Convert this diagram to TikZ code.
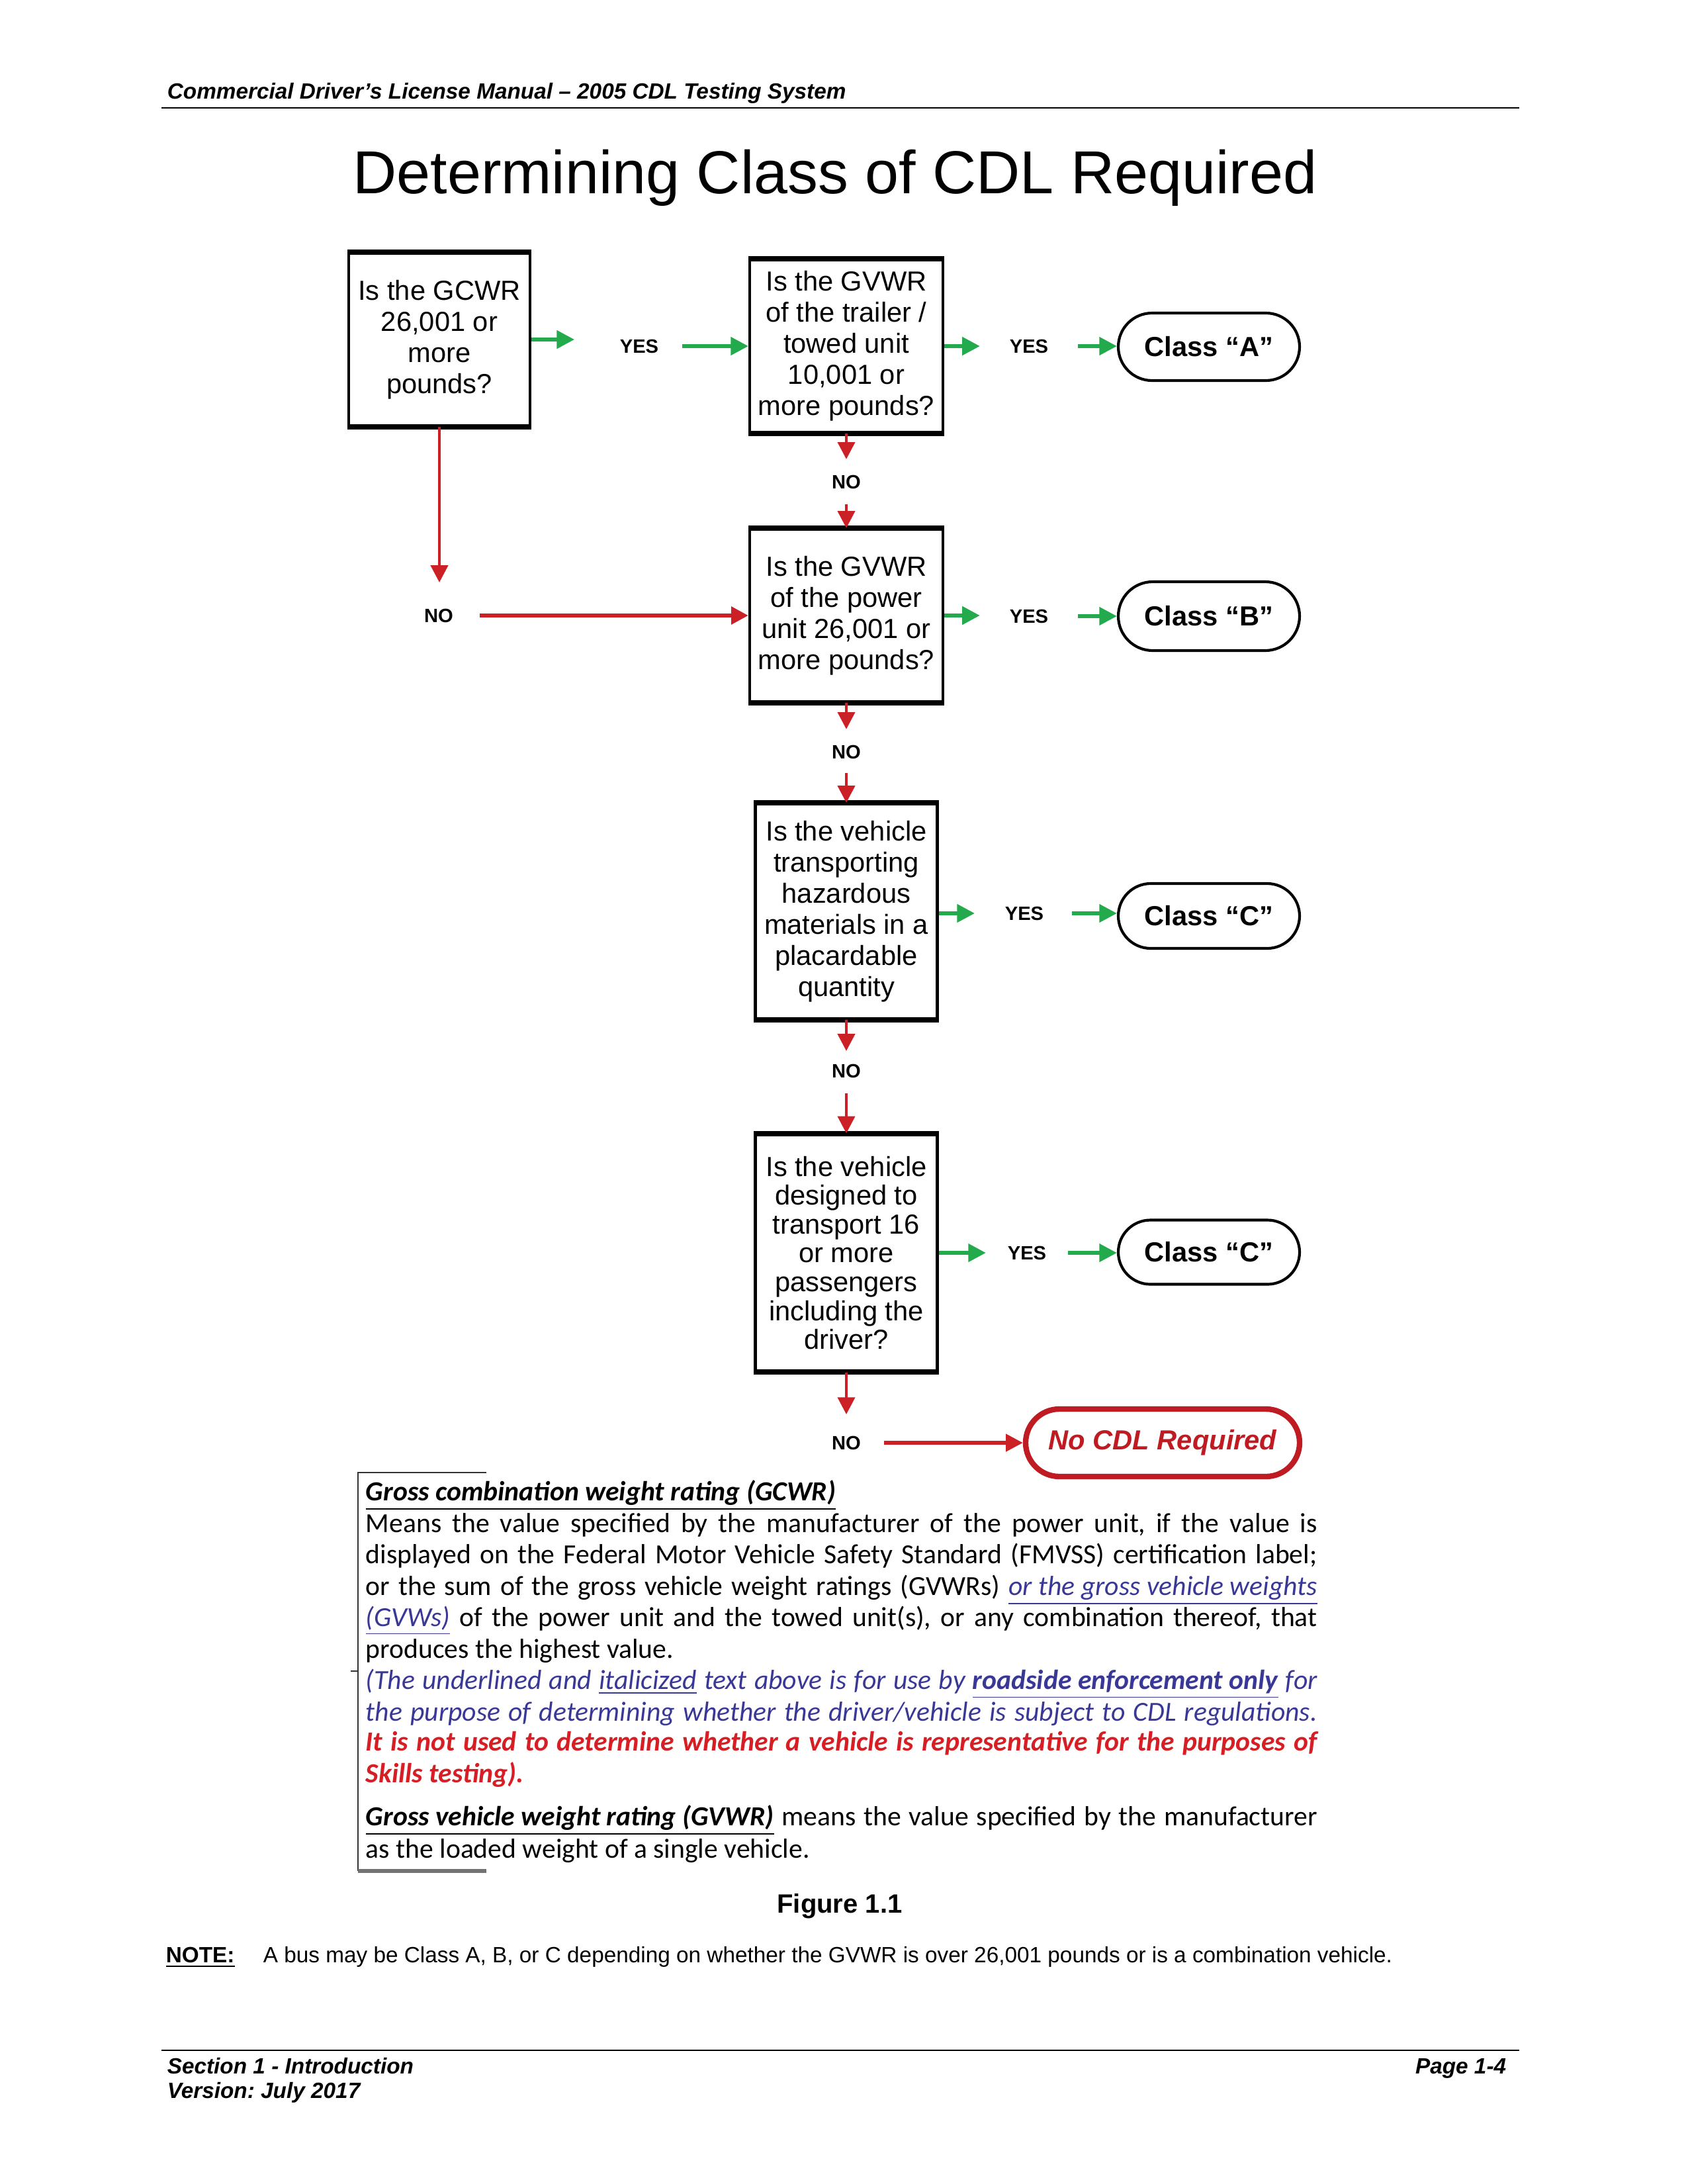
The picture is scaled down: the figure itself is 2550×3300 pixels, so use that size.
\documentclass[tikz,border=0pt]{standalone}
\usepackage{fontspec}
\usepackage{graphicx}
\setmainfont{Liberation Sans}
\newfontfamily\calib{Carlito}
\usetikzlibrary{arrows.meta,shapes.misc}
\definecolor{grn}{RGB}{34,170,76}
\definecolor{rd}{RGB}{204,32,39}
\definecolor{dkred}{RGB}{190,28,34}
\definecolor{bpurp}{RGB}{58,56,150}
\definecolor{txtred}{RGB}{214,30,36}
\frenchspacing
\newsavebox\jlbox
\newcommand\jl[1]{\sbox\jlbox{#1}\ifdim\wd\jlbox>345.1pt\resizebox{345.1pt}{\height}{\usebox\jlbox}\else\makebox[345.1pt][s]{#1}\fi}
\tikzset{
  qbox/.style={draw, line width=1pt, inner sep=0pt, align=center, font=\fontsize{10}{11.28}\selectfont},
  oval/.style={draw, rounded rectangle, line width=1pt, inner sep=0pt, minimum width={274*0.24pt}, font=\fontsize{10}{12}\selectfont\bfseries},
  lbl/.style={inner sep=0pt, font=\fontsize{7}{8}\selectfont\bfseries},
  garrow/.style={draw=grn, line width=1.4pt, -{Triangle[length=6.4pt,width=6.4pt]}},
  rarrow/.style={draw=rd, line width=1.1pt, -{Triangle[length=6.2pt,width=6.2pt]}},
  bodyline/.style={anchor=base west, inner sep=0pt, font=\calib\fontsize{10}{12}\selectfont},
  hdrtext/.style={anchor=base west, inner sep=0pt, font=\fontsize{8}{10}\selectfont\bfseries\itshape},
}
\begin{document}
\begin{tikzpicture}[x=0.24pt, y=-0.24pt]
\useasboundingbox (0,0) rectangle (2550,3300);
\fill[white] (0,0) rectangle (2550,3300);

% header
\node[hdrtext] (hdr) at (252,149) {Commercial Driver’s License Manual – 2005 CDL Testing System};
\draw[line width=0.7pt] (244,163) -- (2296,163);
\node[anchor=base, inner sep=0pt, font=\fontsize{22}{26}\selectfont] (title) at (1262,292) {Determining Class of CDL Required};

% question boxes
\node[qbox, minimum width={274*0.24pt}, minimum height={260*0.24pt}] (b1) at (664,513) {Is the GCWR\\26,001 or\\more\\pounds?};
\node[qbox, minimum width={292*0.24pt}, minimum height={260*0.24pt}] (b2) at (1279,523) {Is the GVWR\\of the trailer /\\towed unit\\10,001 or\\more pounds?};
\node[qbox, minimum width={292*0.24pt}, minimum height={260*0.24pt}] (b3) at (1279,930) {Is the GVWR\\of the power\\unit 26,001 or\\more pounds?};
\node[qbox, minimum width={275*0.24pt}, minimum height={324*0.24pt}] (b4) at (1279,1377) {Is the vehicle\\transporting\\hazardous\\materials in a\\placardable\\quantity};
\node[qbox, minimum width={275*0.24pt}, minimum height={357*0.24pt}, font=\fontsize{10}{10.46}\selectfont] (b5) at (1279,1893) {Is the vehicle\\designed to\\transport 16\\or more\\passengers\\including the\\driver?};
\foreach \b in {b1,b2,b3,b4,b5}{
  \draw[line width=1.7pt] (\b.north west) -- (\b.north east);
  \draw[line width=1.7pt] (\b.south west) -- (\b.south east);
}

% result ovals
\node[oval, minimum height={102*0.24pt}] (cA) at (1827,524) {Class “A”};
\node[oval, minimum height={104*0.24pt}] (cB) at (1827,931) {Class “B”};
\node[oval, minimum height={98*0.24pt}] (cC1) at (1827,1384) {Class “C”};
\node[oval, minimum height={97*0.24pt}] (cC2) at (1827,1892) {Class “C”};
\node[oval, draw=dkred, line width=2pt, text=dkred, minimum width={414*0.24pt}, minimum height={102*0.24pt}, font=\fontsize{10}{12}\selectfont\bfseries\itshape] (nocdl) at (1757,2180) {No CDL Required};

% labels
\node[lbl] (y1) at (966,523) {YES};
\node[lbl] (y2) at (1555,523) {YES};
\node[lbl] (y3) at (1555,931) {YES};
\node[lbl] (y4) at (1548,1380) {YES};
\node[lbl] (y5) at (1552,1893) {YES};
\node[lbl] (n1) at (663,930) {NO};
\node[lbl] (n2) at (1279,728) {NO};
\node[lbl] (n3) at (1279,1136) {NO};
\node[lbl] (n4) at (1279,1618) {NO};
\node[lbl] (n5) at (1279,2180) {NO};

% green connectors
\draw[garrow, shorten >=23.5pt] (b1.east) -- (b1.east -| y1.center);
\draw[garrow, shorten <=15.6pt] (y1.center) -- (b2.west);
\draw[garrow, shorten >=17.8pt] (b2.east) -- (y2.center);
\draw[garrow, shorten <=17.8pt] (y2.center) -- (y2.center -| cA.west);
\draw[garrow, shorten >=17.8pt] (b3.east) -- (b3.east -| y3.center);
\draw[garrow, shorten <=17.8pt] (y3.center) -- (y3.center -| cB.west);
\draw[garrow, shorten >=18pt] (y4.center -| b4.east) -- (y4.center);
\draw[garrow, shorten <=17.3pt] (y4.center) -- (y4.center -| cC1.west);
\draw[garrow, shorten >=14.9pt] (b5.east) -- (b5.east -| y5.center);
\draw[garrow, shorten <=14.9pt] (y5.center) -- (y5.center -| cC2.west);

% red connectors
\draw[rarrow, shorten >=12pt] (b1.south) -- (b1.south |- n1.center);
\draw[rarrow, line width=1.5pt, shorten <=14.9pt] (n1.center) -- (n1.center -| b3.west);
\draw[rarrow, shorten >=8.2pt] (b2.south) -- (n2.center);
\draw[rarrow, shorten <=8.2pt] (n2.center) -- (b3.north);
\draw[rarrow, shorten >=8.2pt] (b3.south) -- (n3.center);
\draw[rarrow, shorten <=7.7pt] (n3.center) -- (b4.north);
\draw[rarrow, shorten >=7.2pt] (b4.south) -- (n4.center);
\draw[rarrow, shorten <=8.2pt] (n4.center) -- (b5.north);
\draw[rarrow, shorten >=10.3pt] (b5.south) -- (n5.center);
\draw[rarrow, line width=1.3pt, shorten <=13.7pt] (n5.center) -- (nocdl.west);

% definitions block
\draw[line width=0.6pt, black!80] (735,2225) -- (541,2225) -- (541,2827);
\draw[line width=1.5pt, black!55] (541,2827) -- (735,2827);
\draw[line width=0.6pt, black!80] (530,2525) -- (541,2525);
\node[bodyline] (t1) at (552,2267) {\underline{\textbf{\textit{Gross combination weight rating (GCWR)}}}};
\node[bodyline] (t2) at (552,2315) {\jl{Means the value specified by the manufacturer of the power unit, if the value is}};
\node[bodyline] (t3) at (552,2362) {\jl{displayed on the Federal Motor Vehicle Safety Standard (FMVSS) certification label;}};
\node[bodyline] (t4) at (552,2410) {\jl{or the sum of the gross vehicle weight ratings (GVWRs) \textcolor{bpurp}{\underline{\textit{or the gross vehicle weights}}}}};
\node[bodyline] (t5) at (552,2457) {\jl{\textcolor{bpurp}{\underline{\textit{(GVWs)}}} of the power unit and the towed unit(s), or any combination thereof, that}};
\node[bodyline] (t6) at (552,2505) {produces the highest value.};
\node[bodyline, text=bpurp] (t7) at (552,2552) {\itshape\jl{(The underlined and \underline{italicized} text above is for use by \underline{\textbf{roadside enforcement only}} for}};
\node[bodyline, text=bpurp] (t8) at (552,2600) {\itshape\jl{the purpose of determining whether the driver/vehicle is subject to CDL regulations.}};
\node[bodyline, text=txtred] (t9) at (552,2645) {\bfseries\itshape\jl{It is not used to determine whether a vehicle is representative for the purposes of}};
\node[bodyline, text=txtred] (t10) at (552,2693) {\bfseries\itshape Skills testing).};
\node[bodyline] (t11) at (552,2758) {\jl{\underline{\textbf{\textit{Gross vehicle weight rating (GVWR)}}} means the value specified by the manufacturer}};
\node[bodyline] (t12) at (552,2807) {as the loaded weight of a single vehicle.};

% caption and note
\node[anchor=base, inner sep=0pt, font=\fontsize{9.6}{12}\selectfont\bfseries] (fig) at (1269,2890) {Figure 1.1};
\node[anchor=base west, inner sep=0pt, font=\fontsize{8}{10}\selectfont\bfseries] (notel) at (250,2965) {\underline{NOTE:}};
\node[anchor=base west, inner sep=0pt, font=\fontsize{8}{10}\selectfont] (notet) at (397,2965) {A bus may be Class A, B, or C depending on whether the GVWR is over 26,001 pounds or is a combination vehicle.};

% footer
\draw[line width=0.7pt] (244,3098) -- (2296,3098);
\node[hdrtext] (f1) at (252,3133) {Section 1 - Introduction};
\node[hdrtext] (f2) at (252,3170) {Version: July 2017};
\node[hdrtext, anchor=base east] (f3) at (2277,3133) {Page 1-4};
\end{tikzpicture}
\end{document}
